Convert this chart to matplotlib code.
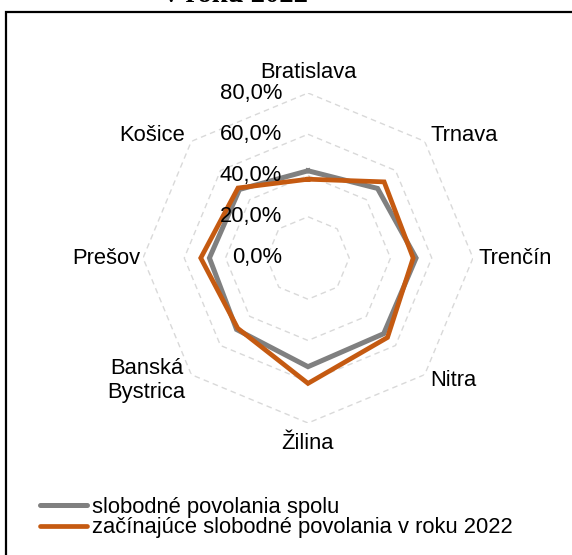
import numpy as np
import matplotlib
matplotlib.use("Agg")
import matplotlib.pyplot as plt
from matplotlib.lines import Line2D
from matplotlib.patches import Rectangle
from matplotlib.transforms import offset_copy

# data (share in %)
regions = ["Bratislava", "Trnava", "Trenčín", "Nitra", "Žilina",
           "Banská\nBystrica", "Prešov", "Košice"]
spolu = [42.3, 47.7, 52.4, 51.9, 52.7, 49.0, 47.8, 47.0]
zacinajuce = [38.2, 52.2, 51.0, 54.5, 60.8, 48.2, 52.0, 48.0]
tick_values = [0, 20, 40, 60, 80]
tick_labels = ["0,0%", "20,0%", "40,0%", "60,0%", "80,0%"]
series_names = ["slobodné povolania spolu",
                "začínajúce slobodné povolania v roku 2022"]

GRAY = "#808080"
ORANGE = "#C55A11"
FS = 15.8

plt.rcParams["font.family"] = ["Liberation Sans", "DejaVu Sans"]

W, H = 572, 555
fig = plt.figure(figsize=(W / 100, H / 100), dpi=100)

# chart border (box runs off the right and bottom edges)
fig.patches.append(Rectangle((6 / W, -0.05), 1.1, 1 - 12 / H + 0.05,
                             transform=fig.transFigure, fill=False,
                             edgecolor="black", linewidth=1.6, clip_on=False))

# second line of the title, cut off by the top edge as in the original
fig.text(236 / W, 1 - 2 / H, "v roku 2022", ha="center", va="baseline",
         fontsize=20.5, fontweight="bold", family="Liberation Serif")

cx, cy, R = 308, 258, 165
ax = fig.add_axes([(cx - R) / W, (H - cy - R) / H, 2 * R / W, 2 * R / H],
                  projection="polar")
ax.set_theta_zero_location("N")
ax.set_theta_direction(-1)
ax.set_ylim(0, 80)
ax.axis("off")

n = len(regions)
angles = np.linspace(0, 2 * np.pi, n, endpoint=False)
closed = np.append(angles, angles[0])

# dashed octagon grid rings
for v in tick_values[1:]:
    ax.plot(closed, [v] * (n + 1), color="#d9d9d9", linestyle=(0, (4, 3)),
            linewidth=1, zorder=1)

ax.plot(closed, spolu + spolu[:1], color=GRAY, linewidth=3.6, zorder=3,
        solid_joinstyle="miter")
ax.plot(closed, zacinajuce + zacinajuce[:1], color=ORANGE, linewidth=3.4,
        zorder=4, solid_joinstyle="miter")

# value axis labels
tick_tr = offset_copy(ax.transData, fig=fig, x=-26, y=0, units="dots")
for v, lab in zip(tick_values, tick_labels):
    ax.text(0, v, lab, transform=tick_tr, ha="right", va="center",
            fontsize=FS, zorder=5)

# category labels
label_pos = [
    (89.7, "center", "center"),
    (84, "left", "center"),
    (82.5, "left", "center"),
    (84, "left", "center"),
    (89.7, "center", "center"),
    (84, "right", "center"),
    (81.5, "right", "center"),
    (84, "right", "center"),
]
for ang, name, (r, ha, va) in zip(angles, regions, label_pos):
    ax.text(ang, r, name, ha=ha, va=va, fontsize=FS, multialignment="center",
            clip_on=False)

handles = [Line2D([], [], color=GRAY, linewidth=3.6, solid_capstyle="round"),
           Line2D([], [], color=ORANGE, linewidth=3.4, solid_capstyle="round")]
fig.legend(handles, series_names, loc="center left",
           bbox_to_anchor=(40 / W, 1 - 517.5 / H), frameon=False,
           fontsize=FS, handlelength=2.15, handletextpad=0.2,
           labelspacing=0.0, borderpad=0, borderaxespad=0)

fig.savefig("out.png", dpi=100)
